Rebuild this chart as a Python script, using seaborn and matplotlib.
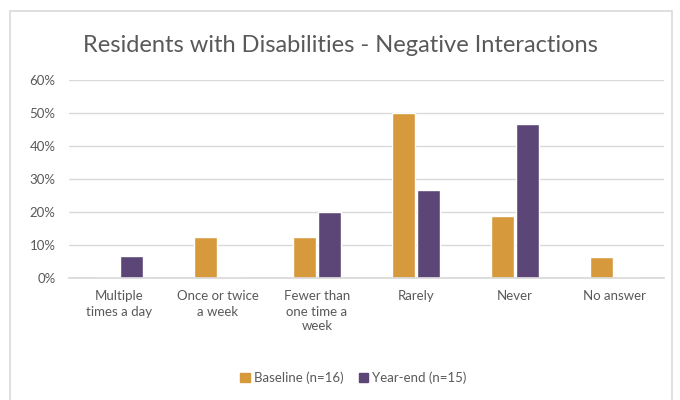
import matplotlib
matplotlib.use("Agg")
import matplotlib.pyplot as plt
import matplotlib.patches as mpatches
from matplotlib.ticker import PercentFormatter
import seaborn as sns
import pandas as pd

categories = ["Multiple\ntimes a day", "Once or twice\na week", "Fewer than\none time a\nweek",
              "Rarely", "Never", "No answer"]
series_names = ["Baseline (n=16)", "Year-end (n=15)"]
baseline = [0.0, 12.5, 12.5, 50.0, 18.75, 6.25]
year_end = [6.67, 0.0, 20.0, 26.67, 46.67, 0.0]
yticks = [0, 10, 20, 30, 40, 50, 60]

colors = ["#D69A3D", "#5B4677"]

rows = []
for c, b, y in zip(categories, baseline, year_end):
    rows.append({"cat": c, "series": series_names[0], "val": b})
    rows.append({"cat": c, "series": series_names[1], "val": y})
df = pd.DataFrame(rows)

sns.set_theme(style="white")
plt.rcParams["font.family"] = ["Lato", "DejaVu Sans"]

fig = plt.figure(figsize=(6.8, 4.0), dpi=100)
ax = fig.add_axes([0.102, 0.305, 0.874, 0.495])

sns.barplot(data=df, x="cat", y="val", hue="series", palette=colors,
            order=categories, hue_order=series_names, width=0.5,
            saturation=1, ax=ax, legend=False)

# Small gap between bars
for p in ax.patches:
    w = p.get_width()
    p.set_width(w - 0.016)
    p.set_x(p.get_x() + 0.008)

ax.set_ylim(0, 60)
ax.set_xlim(-0.5, len(categories) - 0.5)
ax.set_yticks(yticks)
ax.yaxis.set_major_formatter(PercentFormatter(decimals=0))
ax.grid(axis="y", color="#D9D9D9", linewidth=1)
ax.set_axisbelow(True)
for s in ["top", "right", "left"]:
    ax.spines[s].set_visible(False)
ax.spines["bottom"].set_color("#D9D9D9")
ax.tick_params(axis="both", length=0, colors="#595959", labelsize=9.5)
ax.tick_params(axis="x", pad=9)
ax.tick_params(axis="y", pad=10)
for t in ax.get_xticklabels():
    t.set_linespacing(1.3)
ax.set_xlabel("")
ax.set_ylabel("")

fig.text(0.5, 0.887, "Residents with Disabilities - Negative Interactions",
         ha="center", va="center", fontsize=17, color="#595959")

handles = [mpatches.Patch(color=c, label=n) for c, n in zip(colors, series_names)]
fig.legend(handles=handles, loc="center", bbox_to_anchor=(0.52, 0.055), ncol=2,
           frameon=False, fontsize=9.5, handlelength=0.7, handleheight=0.7,
           handletextpad=0.3, columnspacing=1.2, labelcolor="#595959")

border = mpatches.Rectangle((10 / 680, -0.01), 662 / 680, 1 - 10 / 400 + 0.01 - 0.002,
                            transform=fig.transFigure, fill=False,
                            edgecolor="#D9D9D9", linewidth=1.2)
fig.patches.append(border)

fig.savefig("out.png", dpi=100)
